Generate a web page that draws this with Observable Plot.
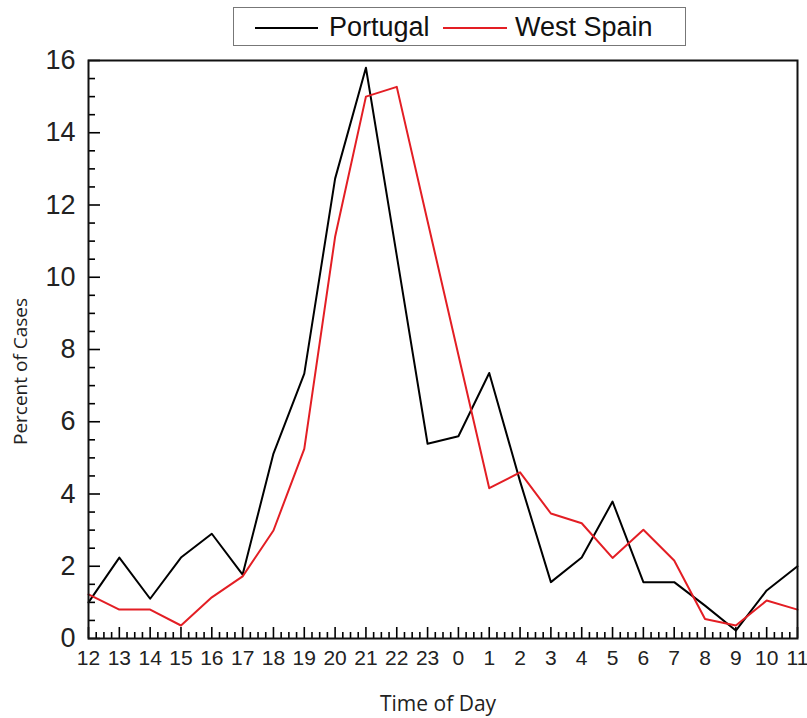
<!DOCTYPE html>
<html>
<head>
<meta charset="utf-8">
<script src="https://cdn.jsdelivr.net/npm/d3@7"></script>
<script src="https://cdn.jsdelivr.net/npm/@observablehq/plot@0.6"></script>
<style>
  html, body { margin: 0; padding: 0; background: #fff; }
  #wrap { position: relative; width: 807px; height: 718px; }
  #legend { position: absolute; left: 0; top: 0; height: 55px; width: 807px; font-family: "Liberation Sans", Arial, sans-serif; z-index: 2; }
  #legend .box { position: absolute; left: 233px; top: 7px; width: 451px; height: 37px; border: 1px solid #777; background: #fff; }
  #legend .sw { position: absolute; top: 19px; height: 2px; }
  #legend .lab { position: absolute; top: 3px; font-size: 27px; line-height: 32px; color: #111; }
  svg { display: block; }
</style>
</head>
<body>
<div id="wrap">
  <div id="chart"></div>
  <div id="legend">
    <div class="box">
      <div class="sw" style="left:21px;width:63px;background:#000"></div>
      <div class="lab" style="left:95px">Portugal</div>
      <div class="sw" style="left:209px;width:64px;background:#e31e24"></div>
      <div class="lab" style="left:281px">West Spain</div>
    </div>
  </div>
</div>
<script>
const hours = [12,13,14,15,16,17,18,19,20,21,22,23,0,1,2,3,4,5,6,7,8,9,10,11];
const portugal = [1.0, 2.24, 1.1, 2.24, 2.9, 1.77, 5.12, 7.33, 12.73, 15.8, 10.6, 5.39, 5.6, 7.35, 4.35, 1.56, 2.24, 3.79, 1.56, 1.56, 0.91, 0.22, 1.33, 2.0];
const westSpain = [1.22, 0.8, 0.8, 0.36, 1.14, 1.72, 2.99, 5.25, 11.12, 15.0, 15.27, 11.55, 7.85, 4.16, 4.6, 3.46, 3.19, 2.23, 3.01, 2.16, 0.54, 0.36, 1.05, 0.8];
const yTicks = [0, 2, 4, 6, 8, 10, 12, 14, 16];

const idx = hours.map((h, i) => i);
const xMinor = d3.range(0, 23.001, 0.25).filter(v => v % 1 !== 0);
const yMinor = d3.range(0, 16.001, 0.5).filter(v => v % 2 !== 0);

const rows = [
  ...hours.map((h, i) => ({i, v: portugal[i], s: "Portugal"})),
  ...hours.map((h, i) => ({i, v: westSpain[i], s: "West Spain"}))
];

const tickFont = "Liberation Sans, Arial, sans-serif";
const titleFont = "Open Sans, sans-serif";

const chart = Plot.plot({
  width: 807,
  height: 718,
  marginLeft: 88,
  marginRight: 10,
  marginTop: 60,
  marginBottom: 80,
  x: {domain: [0, 23]},
  y: {domain: [0, 16]},
  color: {domain: ["Portugal", "West Spain"], range: ["#000000", "#e31e24"]},
  marks: [
    // inward ticks
    Plot.axisX({ticks: idx, tickSize: 11, dy: -11, tickFormat: () => "", label: null, strokeWidth: 1.6}),
    Plot.axisX({ticks: xMinor, tickSize: 6, dy: -6, tickFormat: () => "", label: null, strokeWidth: 1.6}),
    Plot.axisY({ticks: yTicks, tickSize: 12, dx: 12, tickFormat: () => "", label: null, strokeWidth: 1.6}),
    Plot.axisY({ticks: yMinor, tickSize: 7, dx: 7, tickFormat: () => "", label: null, strokeWidth: 1.6}),
    // tick labels
    Plot.axisX({ticks: idx, tickSize: 0, tickPadding: 12, tickFormat: i => String(hours[i]), fontSize: 21, fontFamily: tickFont, fill: "#222", label: null}),
    Plot.axisY({ticks: yTicks, tickSize: 0, tickPadding: 13, tickFormat: d => String(d), fontSize: 27, fontFamily: tickFont, fill: "#222", label: null}),
    // axis titles
    Plot.text(["Time of Day"], {frameAnchor: "bottom", textAnchor: "middle", dy: 72, dx: -5, fontSize: 21, fontFamily: titleFont, fill: "#222"}),
    Plot.text(["Percent of Cases"], {frameAnchor: "left", textAnchor: "middle", rotate: -90, dx: -68, dy: 22, fontSize: 19, fontFamily: titleFont, fill: "#222"}),
    Plot.lineY(rows, {x: "i", y: "v", stroke: "s", strokeWidth: 2}),
    Plot.frame({stroke: "#111", strokeWidth: 2})
  ]
});
document.getElementById("chart").appendChild(chart);
</script>
</body>
</html>
